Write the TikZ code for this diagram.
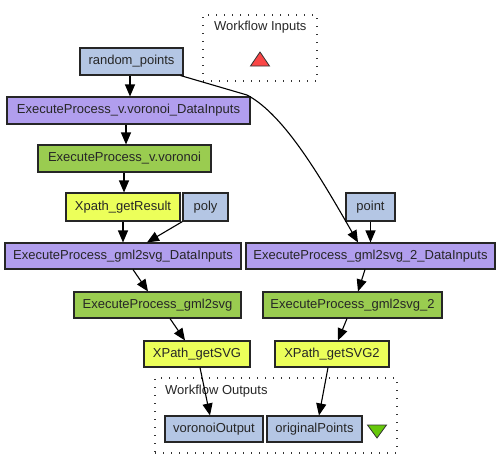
\documentclass[tikz,border=0pt]{standalone}
\usepackage{fontspec}
\setmainfont{Liberation Sans}
\usetikzlibrary{arrows.meta}
\definecolor{inblue}{RGB}{180,198,228}
\definecolor{procpurple}{RGB}{177,158,238}
\definecolor{procgreen}{RGB}{154,204,80}
\definecolor{xyellow}{RGB}{236,255,90}
\definecolor{trired}{RGB}{250,70,70}
\definecolor{trigreen}{RGB}{102,200,10}
\tikzset{
  box/.style={draw=black!85, line width=1.1pt, inner sep=0pt, minimum height=27pt,
     font=\fontsize{13}{15}\selectfont, text=black!85},
  portbox/.style={box, fill=inblue},
  purplebox/.style={box, fill=procpurple},
  greenbox/.style={box, fill=procgreen},
  yellowbox/.style={box, fill=xyellow},
  cluster/.style={draw=black!80, line width=1.5pt, dash pattern=on 1.4pt off 6.6pt, inner sep=0pt},
  ctitle/.style={anchor=west, inner sep=0pt, font=\fontsize{13}{15}\selectfont, text=black!85},
  arr/.style={draw=black, line width=1.1pt, -{Triangle[length=12pt,width=10pt]}},
}
\begin{document}
\begin{tikzpicture}[x=1pt,y=-1pt]
\useasboundingbox (0,0) rectangle (500,469);
% clusters
\node[cluster, minimum width=114pt, minimum height=66pt] (cin) at (260,48) {};
\node[ctitle] (cintitle) at (214,27) {Workflow Inputs};
\fill[trired, draw=black!80, line width=0.8pt] (250.5,66) -- (269.5,66) -- (260,52) -- cycle;
\node[cluster, minimum width=242pt, minimum height=75pt] (cout) at (276,415.5) {};
\node[ctitle] (couttitle) at (165,391) {Workflow Outputs};
\fill[trigreen, draw=black!80, line width=0.8pt] (367.5,425) -- (386.5,425) -- (377,438) -- cycle;
% nodes
\node[portbox, minimum width=103pt] (rp) at (131.5,61.5) {random\_points};
\node[purplebox, minimum width=243pt] (vdi) at (128.5,110.5) {ExecuteProcess\_v.voronoi\_DataInputs};
\node[greenbox, minimum width=173pt] (vv) at (124.5,158.5) {ExecuteProcess\_v.voronoi};
\node[yellowbox, minimum width=114pt, minimum height=28pt] (xgr) at (123,207) {Xpath\_getResult};
\node[portbox, minimum width=45pt, minimum height=28pt] (poly) at (205.5,207) {poly};
\node[portbox, minimum width=49pt, minimum height=28pt] (pt) at (370.5,207) {point};
\node[purplebox, minimum width=236pt, minimum height=26pt] (gdi) at (123,256) {ExecuteProcess\_gml2svg\_DataInputs};
\node[purplebox, minimum width=249pt, minimum height=26pt] (g2di) at (370.5,256) {ExecuteProcess\_gml2svg\_2\_DataInputs};
\node[greenbox, minimum width=167pt, minimum height=26pt] (g) at (157.5,305) {ExecuteProcess\_gml2svg};
\node[greenbox, minimum width=179pt, minimum height=26pt] (g2) at (352.5,305) {ExecuteProcess\_gml2svg\_2};
\node[yellowbox, minimum width=106pt, minimum height=26pt] (xs) at (197,354) {XPath\_getSVG};
\node[yellowbox, minimum width=114pt, minimum height=26pt] (xs2) at (332,354) {XPath\_getSVG2};
\node[portbox, minimum width=98pt, minimum height=26pt] (vo) at (214,429) {voronoiOutput};
\node[portbox, minimum width=95pt, minimum height=26pt] (op) at (314.5,429) {originalPoints};
% edges
\draw[arr] ([xshift=-1.5pt]rp.south) -- ([xshift=1.5pt]vdi.north);
\draw[arr] ([xshift=-3pt]rp.south east) -- (247,95) .. controls (285,115) and (322,180) .. ([xshift=-12.5pt]g2di.north);
\draw[arr] (pt.south) -- (pt.south |- g2di.north);
\draw[arr] ([xshift=-2.5pt]vdi.south) -- ([xshift=1.5pt]vv.north);
\draw[arr] ([xshift=-0.5pt]vv.south) -- ([xshift=1pt]xgr.north);
\draw[arr] (xgr.south) -- (xgr.south |- gdi.north);
\draw[arr] (poly.south west) -- ([xshift=24pt]gdi.north);
\draw[arr] ([xshift=10pt]gdi.south) -- ([xshift=-9.5pt]g.north);
\draw[arr] ([xshift=12.5pt]g.south) -- ([xshift=-12pt]xs.north);
\draw[arr] ([xshift=3pt]xs.south) -- ([xshift=-4pt]vo.north);
\draw[arr] ([xshift=-5.5pt]g2di.south) -- ([xshift=5.5pt]g2.north);
\draw[arr] ([xshift=-5.5pt]g2.south) -- ([xshift=6pt]xs2.north);
\draw[arr] ([xshift=-4pt]xs2.south) -- ([xshift=4.5pt]op.north);
\end{tikzpicture}
\end{document}
